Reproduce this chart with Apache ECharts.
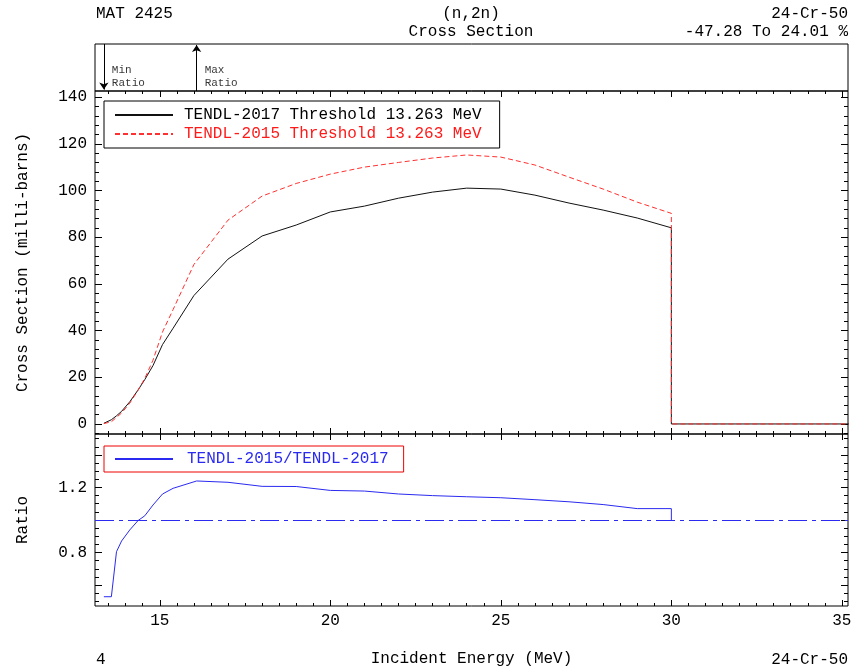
<!DOCTYPE html>
<html>
<head>
<meta charset="utf-8">
<script src="https://cdn.jsdelivr.net/npm/echarts@6/dist/echarts.min.js"></script>
<style>
  html, body { margin: 0; padding: 0; background: #fff; }
  #main { width: 864px; height: 669px; }
</style>
</head>
<body>
<div id="main"></div>
<script>
// 截面数据 (MeV, milli-barns)
const energy = [13.36, 13.58, 13.73, 13.88, 14.12, 14.36, 14.56, 14.8, 15.08, 15.39, 16, 17, 18, 19, 20, 21, 22, 23, 24, 25, 26, 27, 28, 29, 30, 30, 36]
const xs2017 = [0.3, 1.8, 3.5, 5.4, 9.5, 14.5, 19, 25, 34, 41, 55, 70.6, 80.5, 85.2, 90.8, 93.3, 96.7, 99.3, 101, 100.6, 98, 94.6, 91.6, 88.2, 84.0, 0, 0]
const xs2015 = [0.16, 0.95, 2.8, 4.7, 8.9, 14.4, 19.5, 27.3, 39.4, 49, 68.3, 87.3, 97.6, 103, 107, 110, 112, 113.9, 115.2, 114.3, 110.9, 105.7, 100.6, 95, 90.2, 0, 0]

// 比值数据 (30 MeV 以上两者均为零，不画)
const ratioE = [13.36, 13.58, 13.73, 13.88, 14.12, 14.36, 14.56, 14.8, 15.08, 15.39, 16.08, 17, 18, 19, 20, 21, 22, 23, 24, 25, 26, 27, 28, 29, 30, 30]
const ratio = [0.528, 0.528, 0.805, 0.871, 0.939, 0.996, 1.026, 1.092, 1.16, 1.195, 1.24, 1.232, 1.207, 1.206, 1.182, 1.178, 1.16, 1.15, 1.143, 1.137, 1.125, 1.112, 1.095, 1.07, 1.07, 1.0]

// 刻度
const xMajor = [15, 20, 25, 30, 35]
const xsMajor = [0, 20, 40, 60, 80, 100, 120, 140]
const ratioMajor = [0.6, 0.8, 1.0, 1.2, 1.4]
const ratioLabels = [0.8, 1.2]

const name2017 = 'TENDL-2017 Threshold 13.263 MeV'
const name2015 = 'TENDL-2015 Threshold 13.263 MeV'
const nameRatio = 'TENDL-2015/TENDL-2017'

const FONT = 'Liberation Mono'
const BLUE = '#2a2af0'
const X_MIN = 13.1, X_MAX = 35.18
const XS_MIN = -4.3, XS_MAX = 142.6
const R_MIN = 0.471, R_MAX = 1.529

function steps(from, to, step) {
  const out = []
  for (let v = from; v <= to + 1e-9; v += step) out.push(Math.round(v * 1000) / 1000)
  return out
}

const xMinor = steps(13.5, 35, 0.5)
const xsMinor = steps(-4, 140, 4)
const ratioMinor = steps(0.5, 1.5, 0.05)

// 最小/最大比值的位置
let iMin = 0, iMax = 0
ratio.forEach((r, i) => {
  if (r < ratio[iMin]) iMin = i
  if (r > ratio[iMax]) iMax = i
})

const zip = (xs, ys) => xs.map((x, i) => [x, ys[i]])

function tickAxis(grid, pos, min, max, ticks, len, labels) {
  const ax = {
    type: 'value', gridIndex: grid, position: pos, min: min, max: max,
    axisLine: { show: false, onZero: false },
    splitLine: { show: false },
    axisTick: { show: true, inside: true, length: len, customValues: ticks, lineStyle: { color: '#000', width: 1 } },
    axisLabel: { show: false }
  }
  if (labels) {
    ax.axisLabel = { show: true, customValues: labels, fontFamily: FONT, fontSize: 16, color: '#000', margin: 8 }
  }
  return ax
}

const xAxes = [
  // grid 0
  tickAxis(0, 'bottom', X_MIN, X_MAX, xMajor, 6),
  tickAxis(0, 'bottom', X_MIN, X_MAX, xMinor, 3),
  tickAxis(0, 'top', X_MIN, X_MAX, xMajor, 6),
  tickAxis(0, 'top', X_MIN, X_MAX, xMinor, 3),
  // grid 1
  tickAxis(1, 'bottom', X_MIN, X_MAX, xMajor, 6, xMajor),
  tickAxis(1, 'bottom', X_MIN, X_MAX, xMinor, 3),
  tickAxis(1, 'top', X_MIN, X_MAX, xMajor, 6),
  tickAxis(1, 'top', X_MIN, X_MAX, xMinor, 3),
  // grid 2 (min/max box)
  { type: 'value', gridIndex: 2, min: X_MIN, max: X_MAX, show: false }
]
xAxes[4].axisLabel.margin = 7
Object.assign(xAxes[4], {
  name: 'Incident Energy (MeV)', nameLocation: 'middle', nameGap: 45,
  nameTextStyle: { fontFamily: FONT, fontSize: 16, color: '#000' }
})

const yAxes = [
  tickAxis(0, 'left', XS_MIN, XS_MAX, xsMajor, 7, xsMajor),
  tickAxis(0, 'left', XS_MIN, XS_MAX, xsMinor, 4),
  tickAxis(0, 'right', XS_MIN, XS_MAX, xsMajor, 7),
  tickAxis(0, 'right', XS_MIN, XS_MAX, xsMinor, 4),
  tickAxis(1, 'left', R_MIN, R_MAX, ratioMajor, 7, ratioLabels),
  tickAxis(1, 'left', R_MIN, R_MAX, ratioMinor, 4),
  tickAxis(1, 'right', R_MIN, R_MAX, ratioMajor, 7),
  tickAxis(1, 'right', R_MIN, R_MAX, ratioMinor, 4),
  { type: 'value', gridIndex: 2, min: 0, max: 1, show: false }
]
Object.assign(yAxes[0], {
  name: 'Cross Section (milli-barns)', nameLocation: 'middle', nameGap: 64,
  nameTextStyle: { fontFamily: FONT, fontSize: 16, color: '#000' }
})
Object.assign(yAxes[4], {
  name: 'Ratio', nameLocation: 'middle', nameGap: 64,
  nameTextStyle: { fontFamily: FONT, fontSize: 16, color: '#000' }
})

const gridStyle = { show: true, borderColor: '#000', borderWidth: 1, backgroundColor: 'transparent' }

const headText = (text, x, y, align) => ({
  type: 'text', silent: true,
  style: { text: text, x: x, y: y, align: align, verticalAlign: 'middle', font: '16px "' + FONT + '"', fill: '#000' }
})

const option = {
  animation: false,
  backgroundColor: '#fff',
  grid: [
    Object.assign({ left: 95, top: 91, width: 753, height: 343 }, gridStyle),
    Object.assign({ left: 95, top: 434, width: 753, height: 172 }, gridStyle),
    Object.assign({ left: 95, top: 44, width: 753, height: 47 }, gridStyle)
  ],
  xAxis: xAxes,
  yAxis: yAxes,
  legend: [
    {
      orient: 'vertical', left: 104, top: 101,
      padding: [6, 18, 6, 10], itemGap: 3, itemWidth: 58, itemHeight: 15,
      borderColor: '#000', borderWidth: 1, borderRadius: 0,
      selectedMode: false,
      itemStyle: { opacity: 0 },
      textStyle: { fontFamily: FONT, fontSize: 16, padding: [0, 0, 0, 6] },
      data: [
        { name: name2017, textStyle: { color: '#000' } },
        { name: name2015, textStyle: { color: '#ff1a1a' } }
      ]
    },
    {
      orient: 'vertical', left: 104, top: 446,
      padding: [5, 15, 5, 10], itemWidth: 58, itemHeight: 14,
      borderColor: '#e00', borderWidth: 1, borderRadius: 0,
      selectedMode: false,
      itemStyle: { opacity: 0 },
      textStyle: { fontFamily: FONT, fontSize: 16, padding: [0, 0, 0, 9] },
      data: [{ name: nameRatio, textStyle: { color: BLUE } }]
    }
  ],
  series: [
    {
      name: name2017, type: 'line', xAxisIndex: 0, yAxisIndex: 0,
      symbol: 'none', data: zip(energy, xs2017),
      lineStyle: { color: '#111', width: 1 }, itemStyle: { color: '#111' }
    },
    {
      name: name2015, type: 'line', xAxisIndex: 0, yAxisIndex: 0,
      symbol: 'none', data: zip(energy, xs2015),
      lineStyle: { color: '#ff3030', width: 1, type: [5, 3] }, itemStyle: { color: '#ff3030' }
    },
    {
      name: nameRatio, type: 'line', xAxisIndex: 4, yAxisIndex: 4,
      symbol: 'none', data: zip(ratioE, ratio),
      lineStyle: { color: BLUE, width: 1 }, itemStyle: { color: BLUE },
      markLine: {
        silent: true, symbol: ['none', 'none'], label: { show: false },
        lineStyle: { color: BLUE, width: 1, type: [19, 5, 4, 5] },
        data: [{ yAxis: 1 }]
      }
    },
    {
      // Min / Max Ratio 箭头
      type: 'line', xAxisIndex: 8, yAxisIndex: 8, data: [], symbol: 'none',
      markLine: {
        silent: true, symbol: ['none', 'arrow'], symbolSize: 7,
        label: { show: false },
        lineStyle: { color: '#000', width: 1, type: 'solid' },
        data: [
          [{ coord: [ratioE[iMin], 1] }, { coord: [ratioE[iMin], 0.03] }],
          [{ coord: [ratioE[iMax], 0] }, { coord: [ratioE[iMax], 0.98] }]
        ]
      }
    },
    {
      type: 'scatter', xAxisIndex: 8, yAxisIndex: 8, symbolSize: 0, silent: true,
      data: [
        { name: 'Min\nRatio', value: [ratioE[iMin], 0.3] },
        { name: 'Max\nRatio', value: [ratioE[iMax], 0.3] }
      ],
      label: {
        show: true, position: 'right', distance: 8, formatter: '{b}',
        fontFamily: FONT, fontSize: 11, lineHeight: 13, color: '#000', align: 'left'
      }
    }
  ],
  graphic: [
    headText('MAT 2425', 96, 14, 'left'),
    headText('(n,2n)', 471, 14, 'center'),
    headText('Cross Section', 471, 32, 'center'),
    headText('24-Cr-50', 848, 14, 'right'),
    headText('-47.28 To 24.01 %', 848, 32, 'right'),
    headText('4', 96, 660, 'left'),
    headText('24-Cr-50', 848, 660, 'right')
  ]
}

const myChart = echarts.init(document.getElementById('main'))
myChart.setOption(option)
</script>
</body>
</html>
